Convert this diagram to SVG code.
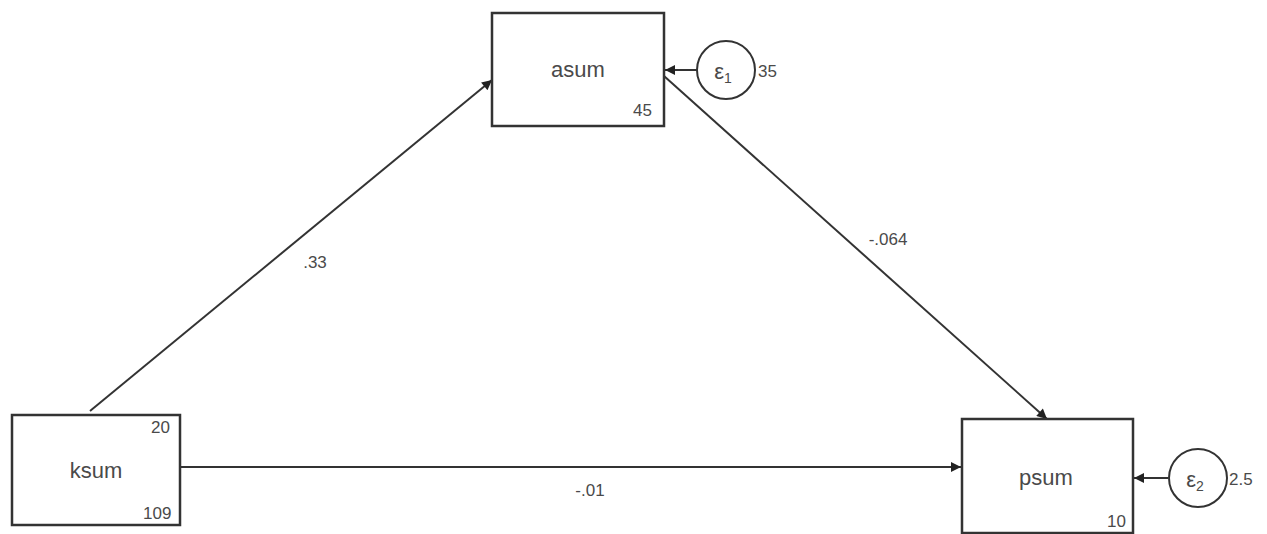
<svg xmlns="http://www.w3.org/2000/svg" width="1267" height="534" viewBox="0 0 1267 534">
<defs>
<marker id="ahb" viewBox="0 0 10 10" refX="10" refY="5" markerWidth="18" markerHeight="10" markerUnits="userSpaceOnUse" orient="auto">
<path d="M0,0 L10,5 L0,10 z" fill="#222"/>
</marker>
</defs>
<style>
.box{fill:#fff;stroke:#333;stroke-width:2.5}
.circ{fill:#fff;stroke:#333;stroke-width:2}
.name{font-family:"Liberation Sans",Arial,sans-serif;font-size:22px;fill:#4a4a4a;text-anchor:middle}
.num{font-family:"Liberation Sans",Arial,sans-serif;font-size:17px;fill:#4a4a4a}
.lbl{font-family:"Liberation Sans",Arial,sans-serif;font-size:17px;fill:#4a4a4a;text-anchor:middle}
.edge{stroke:#333;stroke-width:2;fill:none}
</style>
<rect width="1267" height="534" fill="#fff"/>
<g id="connectors">
<line class="edge" x1="90" y1="411" x2="492" y2="80" marker-end="url(#ahb)"/>
<line class="edge" x1="664" y1="76" x2="1047" y2="419" marker-end="url(#ahb)"/>
<line class="edge" x1="180" y1="467" x2="961" y2="467" marker-end="url(#ahb)"/>
<line class="edge" x1="697" y1="70" x2="665" y2="70" stroke-width="3" marker-end="url(#ahb)"/>
<line class="edge" x1="1168" y1="478" x2="1134" y2="478" stroke-width="3" marker-end="url(#ahb)"/>
<text class="lbl" x="315" y="268">.33</text>
<text class="lbl" x="888" y="245">-.064</text>
<text class="lbl" x="590" y="496">-.01</text>
</g>
<g id="asum">
<rect class="box" x="492" y="13" width="172" height="113"/>
<text class="name" x="578" y="77">asum</text>
<text class="num" x="633" y="116">45</text>
</g>
<g id="e1">
<circle class="circ" cx="726" cy="70" r="29"/>
<text class="name" x="723" y="79" font-size="22">ε<tspan font-size="14" dy="4">1</tspan></text>
<text class="num" x="758" y="77">35</text>
</g>
<g id="ksum">
<rect class="box" x="12" y="415" width="168" height="110"/>
<text class="name" x="96" y="478">ksum</text>
<text class="num" x="151" y="433">20</text>
<text class="num" x="143" y="519">109</text>
</g>
<g id="psum">
<rect class="box" x="962" y="419" width="171" height="114"/>
<text class="name" x="1046" y="485">psum</text>
<text class="num" x="1107" y="527">10</text>
</g>
<g id="e2">
<circle class="circ" cx="1198" cy="478" r="29"/>
<text class="name" x="1195" y="487" font-size="22">ε<tspan font-size="14" dy="4">2</tspan></text>
<text class="num" x="1229" y="485">2.5</text>
</g>
</svg>
